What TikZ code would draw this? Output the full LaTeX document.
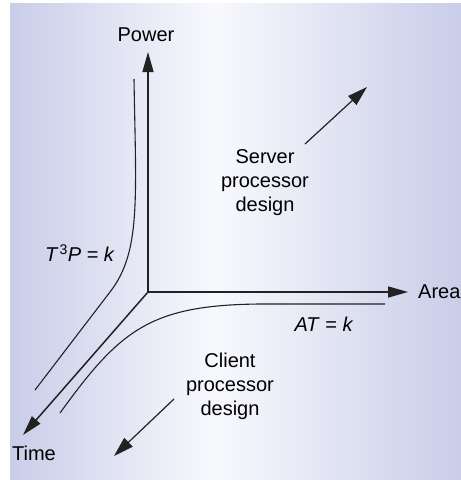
\documentclass[tikz,border=0pt]{standalone}
\usepackage{fontspec}
\setmainfont{Liberation Sans}
\usetikzlibrary{arrows.meta}
\definecolor{bgedge}{HTML}{C9CDE8}
\definecolor{bgmid}{HTML}{F8F9FD}
\definecolor{ink}{HTML}{222222}

\begin{document}
\begin{tikzpicture}[x=1pt, y=-1pt,
  axis/.style={draw=ink, line width=1.5pt, -{Triangle[length=20pt,width=11pt]}},
  pointer/.style={draw=ink, line width=1.2pt, -{Triangle[length=20pt,width=12pt]}},
  curve/.style={draw=ink, line width=1.1pt},
  lbl/.style={font=\fontsize{20}{24}\selectfont, text=black, inner sep=0pt, align=center}]

\useasboundingbox (0,0) rectangle (461,480);

% background: lavender edges fading to white in the middle
\shade[left color=bgedge, right color=bgmid] (10,3) rectangle (216,480);
\shade[left color=bgmid, right color=bgedge] (215,3) rectangle (461,480);

% axes
\coordinate (O) at (148,292);
\coordinate (ptip) at (148,52);
\coordinate (atip) at (408,292);
\coordinate (ttip) at (23,435);
\draw[axis] (O) -- (ptip);
\draw[axis] (O) -- (atip);
\draw[axis] (O) -- (ttip);

\node[lbl] (power) at (146,35) {Power};
\node[lbl, anchor=west] (area) at (418,292) {Area};
\node[lbl] (time) at (34,453) {Time};

% constant-product curves
\coordinate (tp0) at (134,79);
\coordinate (tp1) at (110,292);
\coordinate (tp2) at (35,390);
\draw[curve] (tp0) .. controls (136,200) and (141,252) .. (tp1) -- (tp2);

\coordinate (at0) at (60,413);
\coordinate (at1) at (260,304);
\coordinate (at2) at (385,304);
\draw[curve] (at0) .. controls (120,330) and (150,305) .. (at1) -- (at2);

\node[lbl] (tplbl) at (80,253) {\textit{T}\kern1pt\textsuperscript{3}\textit{P} = \textit{k}};
\node[lbl] (atlbl) at (324,324) {\textit{AT} = \textit{k}};

% design directions
\node[lbl] (server) at (265,183) {Server\\processor\\design};
\node[lbl] (client) at (230,386) {Client\\processor\\design};

\coordinate (s0) at (305,144);
\coordinate (s1) at (367,87);
\draw[pointer] (s0) -- (s1);
\coordinate (c0) at (174,399);
\coordinate (c1) at (114,456);
\draw[pointer] (c0) -- (c1);
\end{tikzpicture}
\end{document}
